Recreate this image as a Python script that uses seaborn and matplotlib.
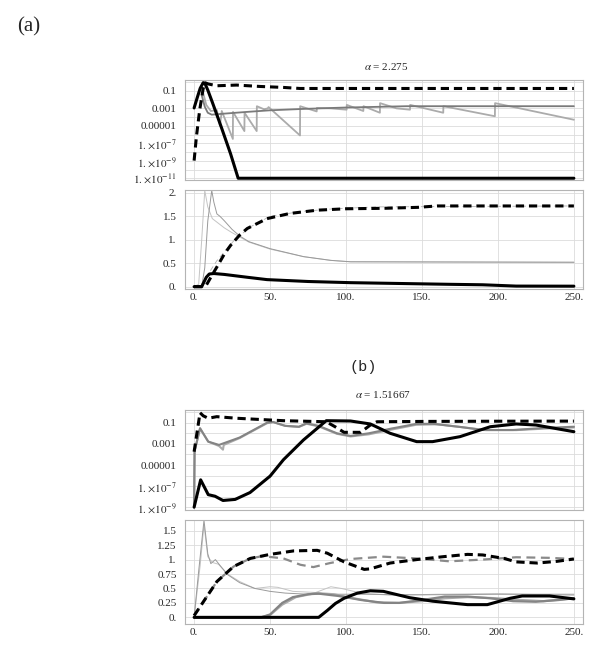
import numpy as np
import matplotlib
matplotlib.use("Agg")
import matplotlib.pyplot as plt
import seaborn as sns

sns.set_style("white")
plt.rcParams['font.family'] = ['Liberation Serif', 'DejaVu Serif']
plt.rcParams['mathtext.fontset'] = 'stix'

# ---------------- data: panel (a) top (log10 values) ----------------
a1_black_x = [0, 2, 4, 6, 7, 9, 12, 18, 24, 29, 250]
a1_black_log = [-2.95, -1.8, -0.7, -0.05, -0.1, -0.9, -2.3, -5.2, -8.2, -11, -11]
a1_dash_x = [0, 1.5, 3.7, 5.9, 7, 9.2, 14.9, 28, 43.4, 58.8, 69.7, 250]
a1_dash_log = [-8.98, -6.25, -3.14, -0.8, -0.05, -0.2, -0.41, -0.33, -0.49, -0.6, -0.72, -0.72]
a1_dgray_x = [5, 7, 9, 11.6, 20, 35, 50, 72, 100, 140, 250]
a1_dgray_log = [-1.5, -2.8, -3.5, -3.72, -3.6, -3.4, -3.22, -3.06, -2.9, -2.75, -2.75]
a1_lgray_x = [5, 8, 11, 15, 17, 18.2, 25.5, 25.6, 33.1, 33.2, 41.2, 41.3, 46, 48.5, 49,
              69.7, 69.8, 80.7, 80.8, 90, 100.4, 100.5, 111.4, 111.5, 122.3, 122.4, 133.3,
              142.1, 142.2, 164, 164.1, 198, 198.1, 250]
a1_lgray_log = [-0.6, -2.6, -3.3, -3.2, -5.0, -3.3, -6.5, -3.4, -5.6, -3.5, -5.6, -2.75, -3.1,
                -3.0, -2.85, -6.1, -2.75, -3.35, -2.95, -3.0, -3.15, -2.6, -3.3, -2.75, -3.5,
                -2.4, -3.0, -3.15, -2.6, -3.5, -2.75, -3.9, -2.4, -4.3]

# ---------------- data: panel (a) bottom ----------------
a2_black_x = [0, 5, 8, 10, 13, 20, 35, 48, 75, 103, 140, 168, 190, 212, 250]
a2_black_y = [0.0, 0.0, 0.2, 0.27, 0.28, 0.26, 0.2, 0.15, 0.11, 0.085, 0.065, 0.05, 0.04, 0.012, 0.01]
a2_dash_x = [0, 6, 8, 11, 15, 20, 24, 30, 35, 48, 63, 81, 100, 125, 147, 160, 250]
a2_dash_y = [0.0, 0.0, 0.03, 0.2, 0.42, 0.7, 0.88, 1.1, 1.24, 1.45, 1.56, 1.63, 1.66, 1.67, 1.69, 1.72, 1.72]
a2_thin1_x = [0, 3, 5, 7, 9, 12, 16, 20, 25, 30, 36, 50, 72, 90, 103, 250]
a2_thin1_y = [0.0, 0.05, 1.0, 2.05, 1.7, 1.45, 1.35, 1.25, 1.15, 1.06, 0.95, 0.8, 0.64, 0.56, 0.53, 0.52]
a2_thin2_x = [0, 5, 7, 9, 11.6, 13, 15, 17, 20, 25, 30, 36, 50, 72, 90, 103, 250]
a2_thin2_y = [0.0, 0.0, 0.4, 1.4, 2.05, 1.8, 1.55, 1.5, 1.4, 1.22, 1.08, 0.96, 0.81, 0.64, 0.56, 0.53, 0.52]
a2_tdash_x = [0, 3.9, 14.9, 25.9, 36.8, 50, 70, 92, 120, 250]
a2_tdash_y = [0.0, 0.0, 0.55, 0.97, 1.27, 1.5, 1.6, 1.66, 1.7, 1.72]

# ---------------- data: panel (b) top (log10 values) ----------------
b1_black_x = [0, 4.3, 9.3, 13.8, 19, 27, 36.8, 50, 58.8, 72, 87, 103, 116, 129, 146.5, 157,
              175, 195, 212, 225, 250]
b1_black_log = [-8.98, -6.4, -7.8, -7.95, -8.35, -8.25, -7.6, -6.05, -4.5, -2.63, -0.81, -0.84,
                -1.12, -2.0, -2.79, -2.79, -2.32, -1.38, -1.12, -1.22, -1.85]
b1_dash_x = [0, 3.9, 6, 9.3, 14.9, 28, 58.7, 87, 93, 98.7, 109.6, 116, 120.4, 150, 200, 250]
b1_dash_log = [-3.74, -0.06, -0.35, -0.58, -0.43, -0.58, -0.81, -0.91, -1.4, -1.91, -1.91,
               -1.22, -0.91, -0.88, -0.86, -0.85]
b1_mgray_x = [0, 0.3, 3.9, 9.3, 16.4, 30, 48, 52, 60, 69, 74, 82, 94, 103, 115, 130, 146,
              157, 175, 190, 210, 230, 250]
b1_mgray_log = [-9, -3.7, -1.53, -2.79, -3.1, -2.4, -1.0, -0.93, -1.3, -1.38, -1.06, -1.3,
                -2.0, -2.25, -2.0, -1.55, -1.12, -1.1, -1.4, -1.69, -1.69, -1.5, -1.38]
b1_lgray_x = [0, 0.3, 3.9, 9.3, 16.4, 19, 19.5, 30, 48, 52, 60, 69, 74, 82, 94, 103, 115,
              130, 146, 160, 178, 192, 212, 232, 250]
b1_lgray_log = [-9, -3.7, -1.53, -2.79, -3.2, -3.55, -3.1, -2.45, -1.05, -0.95, -1.3, -1.4,
                -1.1, -1.35, -2.05, -2.3, -2.1, -1.65, -1.2, -1.15, -1.45, -1.7, -1.7, -1.55, -1.45]

# ---------------- data: panel (b) bottom ----------------
b2_black_x = [0, 82, 87.7, 93, 98.7, 107.5, 116, 124.6, 142, 157, 180, 193, 208, 216, 234, 250]
b2_black_y = [0.0, 0.0, 0.12, 0.24, 0.33, 0.42, 0.46, 0.45, 0.34, 0.28, 0.22, 0.22, 0.33, 0.37, 0.37, 0.32]
b2_dash_x = [0, 15, 26, 37, 50, 65.5, 81, 87.7, 98.7, 112, 116, 129, 146.5, 164, 180, 190,
             204, 212, 226, 239, 250]
b2_dash_y = [0.03, 0.62, 0.88, 1.02, 1.09, 1.15, 1.16, 1.11, 0.96, 0.83, 0.84, 0.94, 1.0,
             1.05, 1.09, 1.08, 1.02, 0.96, 0.94, 0.97, 1.01]
b2_gdash_x = [0, 15, 26, 37, 45, 58.8, 70, 78.5, 89.5, 103, 124.6, 146.5, 168, 190, 212, 234, 250]
b2_gdash_y = [0.03, 0.62, 0.88, 1.02, 1.06, 1.02, 0.91, 0.87, 0.94, 1.01, 1.05, 1.02, 0.97,
              1.0, 1.04, 1.03, 1.01]
b2_mgray_x = [0, 44, 50, 58, 65, 75, 82, 95, 110, 125, 135, 150, 165, 180, 195, 210, 225, 240, 250]
b2_mgray_y = [0.0, 0.0, 0.05, 0.25, 0.35, 0.4, 0.41, 0.37, 0.3, 0.25, 0.25, 0.3, 0.36, 0.36,
              0.33, 0.28, 0.27, 0.3, 0.33]
b2_lgray_x = [0, 44, 50, 58, 67, 80, 92, 105, 120, 135, 150, 165, 180, 200, 215, 230, 250]
b2_lgray_y = [0.0, 0.0, 0.04, 0.22, 0.35, 0.42, 0.4, 0.33, 0.26, 0.25, 0.28, 0.33, 0.35,
              0.33, 0.3, 0.28, 0.33]
b2_thin1_x = [0, 3, 6.5, 9, 11, 14, 17, 22, 30, 40, 50, 60, 75, 90, 110, 150, 200, 250]
b2_thin1_y = [0.0, 0.8, 1.68, 1.1, 0.93, 1.0, 0.9, 0.74, 0.6, 0.5, 0.45, 0.42, 0.4, 0.4,
              0.4, 0.39, 0.4, 0.4]
b2_thin2_x = [0, 4, 6.5, 9, 12, 16, 22, 30, 40, 50, 55, 65, 80, 90, 97, 110, 130, 160, 200, 250]
b2_thin2_y = [0.0, 0.9, 1.6, 1.05, 0.95, 0.92, 0.75, 0.62, 0.5, 0.53, 0.52, 0.45, 0.43,
              0.53, 0.5, 0.42, 0.38, 0.4, 0.41, 0.38]

x_ticks = [0, 50, 100, 150, 200, 250]
x_labels = ["0.", "50.", "100.", "150.", "200.", "250."]
a1_ticks = [-1, -3, -5, -7, -9, -11]
a1_labels = ["0.1", "0.001", "0.00001", r"$1.\!\times\!10^{-7}$", r"$1.\!\times\!10^{-9}$",
             r"$1.\!\times\!10^{-11}$"]
b1_ticks = [-1, -3, -5, -7, -9]
b1_labels = ["0.1", "0.001", "0.00001", r"$1.\!\times\!10^{-7}$", r"$1.\!\times\!10^{-9}$"]
a2_ticks = [0, 0.5, 1, 1.5, 2]
a2_labels = ["0.", "0.5", "1.", "1.5", "2."]
b2_ticks = [0, 0.25, 0.5, 0.75, 1, 1.25, 1.5]
b2_labels = ["0.", "0.25", "0.5", "0.75", "1.", "1.25", "1.5"]

W, H = 600, 649
fig = plt.figure(figsize=(W / 100, H / 100), dpi=100)

FRAME = '#b4b4b4'
GRID = '#dcdcdc'


def add_ax(top, bottom):
    return fig.add_axes([185 / W, 1 - bottom / H, (583 - 185) / W, (bottom - top) / H])


def style(ax, show_x):
    ax.set_xlim(-6, 256)
    for s in ax.spines.values():
        s.set_color(FRAME)
        s.set_linewidth(0.8)
    ax.set_xticks(x_ticks)
    ax.set_xticks(np.arange(0, 251, 10), minor=True)
    if show_x:
        ax.set_xticklabels(x_labels, fontsize=8)
    else:
        ax.set_xticklabels([])
    ax.tick_params(axis='both', which='both', direction='in', color=FRAME, pad=3,
                   top=False, right=False)
    ax.tick_params(axis='both', which='major', length=4, width=0.6)
    ax.tick_params(axis='both', which='minor', length=2, width=0.5)
    ax.tick_params(axis='y', labelsize=8, pad=6)
    ax.grid(True, which='major', color=GRID, lw=0.6)
    ax.set_axisbelow(True)
    ax.set_xlabel("")
    ax.set_ylabel("")


def line(ax, x, y, color, lw, ls='-'):
    sns.lineplot(x=x, y=y, ax=ax, color=color, linewidth=lw, estimator=None,
                 sort=False, linestyle=ls)


def logline(ax, x, e, color, lw, ls='-'):
    line(ax, x, [10.0 ** v for v in e], color, lw, ls)


DASH = (0, (2.7, 1.6))

# ---- (a) top ----
ax = add_ax(80, 180)
ax.set_yscale('log')
logline(ax, a1_lgray_x, a1_lgray_log, '#ababab', 1.3)
logline(ax, a1_dgray_x, a1_dgray_log, '#7a7a7a', 1.3)
logline(ax, a1_dash_x, a1_dash_log, 'black', 2.2, DASH)
logline(ax, a1_black_x, a1_black_log, 'black', 2.2)
ax.set_ylim(10 ** -11.2, 10 ** 0.25)
ax.set_yticks([10.0 ** t for t in a1_ticks])
ax.set_yticklabels(a1_labels)
ax.set_yticks([10.0 ** t for t in range(-11, 1)], minor=True)
ax.yaxis.set_minor_formatter(matplotlib.ticker.NullFormatter())
style(ax, False)
ax.grid(True, which='minor', axis='y', color=GRID, lw=0.6)
ax.tick_params(axis='y', which='minor', length=4)

# ---- (a) bottom ----
ax = add_ax(190, 289)
line(ax, a2_tdash_x, a2_tdash_y, '#b0b0b0', 0.6, (0, (6, 4)))
line(ax, a2_thin1_x, a2_thin1_y, '#c4c4c4', 0.7)
line(ax, a2_thin2_x, a2_thin2_y, '#9a9a9a', 0.7)
line(ax, a2_dash_x, a2_dash_y, 'black', 2.2, DASH)
line(ax, a2_black_x, a2_black_y, 'black', 2.2)
ax.set_ylim(-0.05, 2.06)
ax.set_yticks(a2_ticks)
ax.set_yticklabels(a2_labels)
ax.set_yticks(np.arange(0, 2.01, 0.1), minor=True)
style(ax, True)

# ---- (b) top ----
ax = add_ax(410, 510)
ax.set_yscale('log')
logline(ax, b1_lgray_x, b1_lgray_log, '#ababab', 1.5)
logline(ax, b1_mgray_x, b1_mgray_log, '#848484', 1.5)
logline(ax, b1_dash_x, b1_dash_log, 'black', 2.2, DASH)
logline(ax, b1_black_x, b1_black_log, 'black', 2.2)
ax.set_ylim(10 ** -9.25, 10 ** 0.2)
ax.set_yticks([10.0 ** t for t in b1_ticks])
ax.set_yticklabels(b1_labels)
ax.set_yticks([10.0 ** t for t in range(-9, 1)], minor=True)
ax.yaxis.set_minor_formatter(matplotlib.ticker.NullFormatter())
style(ax, False)
ax.grid(True, which='minor', axis='y', color=GRID, lw=0.6)
ax.tick_params(axis='y', which='minor', length=4)

# ---- (b) bottom ----
ax = add_ax(520, 624)
line(ax, b2_thin2_x, b2_thin2_y, '#c4c4c4', 0.7)
line(ax, b2_thin1_x, b2_thin1_y, '#9a9a9a', 0.7)
line(ax, b2_lgray_x, b2_lgray_y, '#ababab', 1.6)
line(ax, b2_mgray_x, b2_mgray_y, '#848484', 1.6)
line(ax, b2_gdash_x, b2_gdash_y, '#8a8a8a', 1.6, (0, (4, 2.5)))
line(ax, b2_dash_x, b2_dash_y, 'black', 2.2, DASH)
line(ax, b2_black_x, b2_black_y, 'black', 2.2)
ax.set_ylim(-0.115, 1.685)
ax.set_yticks(b2_ticks)
ax.set_yticklabels(b2_labels)
ax.set_yticks(np.arange(0, 1.66, 0.05), minor=True)
style(ax, True)

# ---- texts ----
fig.text(29 / W, 1 - 27 / H, "(a)", ha='center', va='center', fontsize=15)
fig.text(386 / W, 1 - 66 / H, r"$\alpha$ = 2.275", ha='center', va='center', fontsize=8)
fig.text(363 / W, 1 - 367 / H, "(b)", ha='center', va='center', fontsize=11,
         family=['Liberation Mono', 'DejaVu Sans Mono'])
fig.text(383 / W, 1 - 394 / H, r"$\alpha$ = 1.51667", ha='center', va='center', fontsize=8)

fig.savefig("out.png", dpi=100)
